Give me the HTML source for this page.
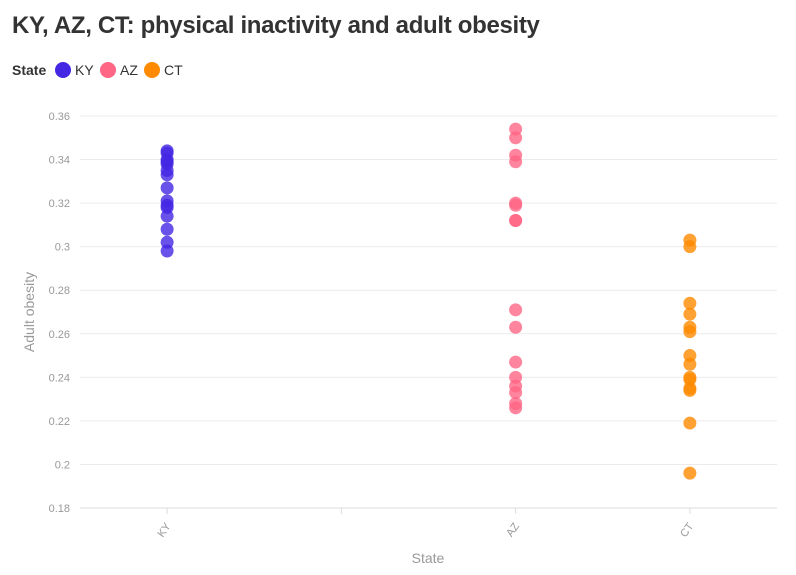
<!DOCTYPE html>
<html><head><meta charset="utf-8">
<style>
body{margin:0;background:#fff;font-family:"Liberation Sans",sans-serif;}
#wrap{position:relative;width:796px;height:575px;overflow:hidden;}
h1{position:absolute;left:12px;top:12px;margin:0;font-size:24px;font-weight:bold;color:#333;letter-spacing:-0.32px;}
</style></head><body>
<div id="wrap">
<h1>KY, AZ, CT: physical inactivity and adult obesity</h1>
<svg id="svg" width="796" height="575" style="position:absolute;left:0;top:0">
<g font-size="14">
<text x="12" y="75" font-weight="bold" fill="#333">State</text>
<circle cx="63" cy="70" r="8" fill="#4427e3"/>
<text x="75" y="75" fill="#333">KY</text>
<circle cx="108" cy="70" r="8" fill="#ff6584"/>
<text x="120" y="75" fill="#333">AZ</text>
<circle cx="152" cy="70" r="8" fill="#ff8a00"/>
<text x="164" y="75" fill="#333">CT</text>
</g>
<g id="grid"></g><g id="pts"></g>
<text x="34" y="312" transform="rotate(-90 34 312)" text-anchor="middle" font-size="14" fill="#999">Adult obesity</text>
<text x="428" y="563" text-anchor="middle" font-size="14" fill="#999">State</text>
</svg>
</div>
<script>
const categories=["KY","","AZ","CT"];
const yTicks=[0.18,0.2,0.22,0.24,0.26,0.28,0.3,0.32,0.34,0.36];
const kyValues=[0.344,0.343,0.340,0.339,0.338,0.335,0.333,0.327,0.321,0.319,0.318,0.314,0.308,0.302,0.298];
const azValues=[0.354,0.350,0.342,0.339,0.320,0.319,0.312,0.312,0.271,0.263,0.247,0.240,0.236,0.233,0.228,0.226];
const ctValues=[0.303,0.300,0.274,0.269,0.263,0.261,0.250,0.246,0.240,0.239,0.235,0.234,0.219,0.196];
const L=80,R=777,T=116,B=508,ymin=0.18,ymax=0.36;
const y=v=>B-(v-ymin)/(ymax-ymin)*(B-T);
const bw=(R-L)/categories.length;
const x=c=>L+bw*(categories.indexOf(c)+0.5);
const NS="http://www.w3.org/2000/svg";
const g=document.getElementById('grid'),p=document.getElementById('pts');
function mk(tag,a,parent){const e=document.createElementNS(NS,tag);for(const k in a)e.setAttribute(k,a[k]);parent.appendChild(e);return e;}
yTicks.forEach(t=>{
 const l=mk('line',{x1:L,x2:R,y1:y(t),y2:y(t),stroke:t===ymin?'#ddd':'#ebebeb','stroke-width':1},g);
 
 
 const tx=mk('text',{x:70,y:y(t)+4,'text-anchor':'end','font-size':11,fill:'#999'},g);
 tx.textContent=String(+t.toFixed(2));
 
 
});
categories.forEach(c=>{
 const cx=x(c);
 const tk=mk('line',{x1:cx,x2:cx,y1:B,y2:B+6,stroke:'#ddd'},g);
 
 
 if(c){const tx=mk('text',{x:cx+4,y:B+18,'text-anchor':'end','font-size':11,fill:'#999',transform:`rotate(-55 ${cx+4} ${B+18})`},g);
 tx.textContent=c;
 
 }
});
[["KY",kyValues,"#4427e3"],["AZ",azValues,"#ff6584"],["CT",ctValues,"#ff8a00"]].forEach(([c,vals,col])=>{
 vals.forEach(v=>{
  const ci=mk('circle',{cx:x(c),cy:y(v),r:6.5,fill:col,'fill-opacity':0.8},p);
  
  
 });
});
</script>
</body></html>
